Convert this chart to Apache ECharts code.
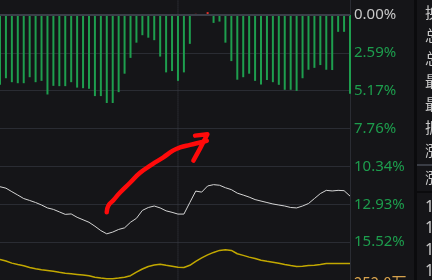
<!DOCTYPE html>
<html>
<head>
<meta charset="utf-8">
<script src="https://cdn.jsdelivr.net/npm/echarts@6/dist/echarts.min.js"></script>
<style>
html,body{margin:0;padding:0;background:#151518;}
#c{width:432px;height:280px;}
</style>
</head>
<body>
<div id="c"></div>
<script>
// ---- data ----
const times = Array.from({length: 60}, (_, i) => i);
const bars = [4.77,4.32,4.59,4.66,4.66,4.25,4.59,4.50,5.43,4.84,
  4.86,4.86,4.59,4.96,5.00,5.04,5.54,5.54,6.01,6.01,
  5.27,4.01,2.93,1.89,1.38,1.55,1.72,2.84,3.92,3.83,
  4.50,3.92,1.97,-0.08,0,-0.2,0.54,0.45,1.89,3.15,
  4.42,4.25,4.01,4.50,4.75,4.44,4.59,4.77,5.11,5.11,
  5.18,4.32,3.74,3.61,3.42,3.74,3.76,1.15,1.15,5.38];
const whiteLine = [11.73,11.83,12.07,12.30,12.54,12.67,12.81,12.98,13.18,13.28,
  13.45,13.62,13.59,13.82,13.99,14.16,14.43,14.73,14.95,14.83,
  14.65,14.54,14.16,13.89,13.35,13.15,13.05,13.18,13.38,13.48,
  13.60,13.60,12.81,12.03,12.10,11.68,11.59,11.63,11.80,11.93,
  12.17,12.30,12.44,12.61,12.71,12.81,12.91,12.98,13.05,13.15,
  13.18,13.05,12.88,12.54,12.20,11.98,12.02,11.98,12.00,12.37];
const yellowLine = [16.70,16.81,16.95,17.05,17.13,17.25,17.33,17.40,17.45,17.51,
  17.58,17.64,17.68,17.72,17.76,17.82,17.91,17.97,18.01,18.01,
  17.97,17.91,17.81,17.57,17.35,17.18,17.08,17.02,17.10,17.17,
  17.24,17.25,17.10,16.83,16.59,16.39,16.22,16.08,16.03,16.08,
  16.31,16.42,16.54,16.64,16.76,16.83,16.89,16.96,17.05,17.12,
  17.18,17.16,17.12,17.09,17.04,16.98,16.98,16.98,16.98,16.98];
const tickLabels = ['0.00%','2.59%','5.17%','7.76%','10.34%','12.93%','15.52%'];
const tickStep = 2.5862;
const noonIndex = 30;
const arrowBody = [[17.99,13.48],[18.26,13.03],[19.11,12.65],[20.24,12.13],[21.92,11.46],
  [23.61,10.78],[25.58,10.22],[27.54,9.72],[29.22,9.25],[30.35,9.05],[32.04,8.87],
  [33.73,8.71],[34.86,8.60]];
const arrowHead = [[32.88,8.24],[34.96,8.15],[33.73,9.11],[32.6,9.95]];
const panelLabels = ['换','总','总','最','最','振','涨','涨'];
const panelNums = ['1','1','1','1'];
const bottomLabel = '252.0万';

// ---- chart ----
const chart = echarts.init(document.getElementById('c'), null, {renderer: 'canvas'});
const pair = arr => arr.map((v, i) => [times[i], v]);
const graphics = [
  {type:'line', shape:{x1:350.5,y1:0,x2:350.5,y2:280}, style:{stroke:'#2a2c33',lineWidth:1}, z:-1},
  {type:'rect', shape:{x:414,y:0,width:3,height:280}, style:{fill:'#0b0b0d'}, z:-1},
  {type:'rect', shape:{x:417,y:164,width:15,height:2}, style:{fill:'#3a3d45'}, z:-1},
  {type:'rect', shape:{x:417,y:191,width:15,height:2}, style:{fill:'#0b0b0d'}, z:-1},
  {type:'text', x:354, y:275, style:{text:bottomLabel, fill:'#d6a24c', font:'15px "Noto Sans CJK SC"', textVerticalAlign:'top'}}
];
panelLabels.forEach((t, k) => {
  const yy = k < 7 ? 12 + 23 * k : 177;
  graphics.push({type:'text', x:425, y:yy, style:{text:t, fill:'#c8c8c8', font:'15px "Noto Sans CJK SC"', textVerticalAlign:'middle'}});
});
panelNums.forEach((t, k) => {
  graphics.push({type:'text', x:425, y:207 + 21.5 * k, style:{text:t, fill:'#c8c8c8', font:'16px "Noto Sans"', textVerticalAlign:'middle'}});
});

chart.setOption({
  backgroundColor: '#151518',
  animation: false,
  grid: {left: 0, right: 82, top: 15, bottom: -3},
  xAxis: {type: 'value', min: 0, max: 59, show: false},
  yAxis: {
    type: 'value', inverse: true, position: 'right',
    min: 0, max: tickStep * 7, interval: tickStep,
    axisLine: {show: false}, axisTick: {show: false},
    splitLine: {lineStyle: {color: '#2a2c33', width: 1}},
    axisLabel: {
      margin: 4, fontSize: 15, fontFamily: 'Noto Sans',
      formatter: v => tickLabels[Math.round(v / tickStep)] || '',
      color: v => (Math.round(v / tickStep) === 0 ? '#c8c8c8' : '#1d9d4d')
    }
  },
  graphic: graphics,
  series: [
    {
      type: 'line', data: [[noonIndex, -1.2], [noonIndex, tickStep * 7]], clip: false,
      symbol: 'none', silent: true, z: 1,
      lineStyle: {color: '#3c3f48', width: 1, type: 'dotted'}
    },
    {
      type: 'bar', data: pair(bars), barWidth: 2, clip: false,
      itemStyle: {color: p => (p.value[1] < 0 ? '#e0302a' : '#1e9e4e')},
      markLine: {
        silent: true, symbol: 'none', label: {show: false},
        lineStyle: {color: '#3a3e48', width: 2, type: 'solid'},
        data: [{yAxis: 0}]
      }
    },
    {
      type: 'line', data: pair(whiteLine), symbol: 'none',
      lineStyle: {color: '#d4d4d4', width: 1}
    },
    {
      type: 'line', data: pair(yellowLine), symbol: 'none',
      lineStyle: {color: '#c2a800', width: 1.5}
    },
    {
      type: 'line', data: arrowBody, symbol: 'none', smooth: true, clip: false,
      lineStyle: {color: '#ff0a0a', width: 4.5, cap: 'round', join: 'round'}
    },
    {
      type: 'line', data: arrowHead, symbol: 'none', clip: false,
      lineStyle: {color: '#ff0a0a', width: 4.5, cap: 'round', join: 'round'}
    }
  ]
});
</script>
</body>
</html>
